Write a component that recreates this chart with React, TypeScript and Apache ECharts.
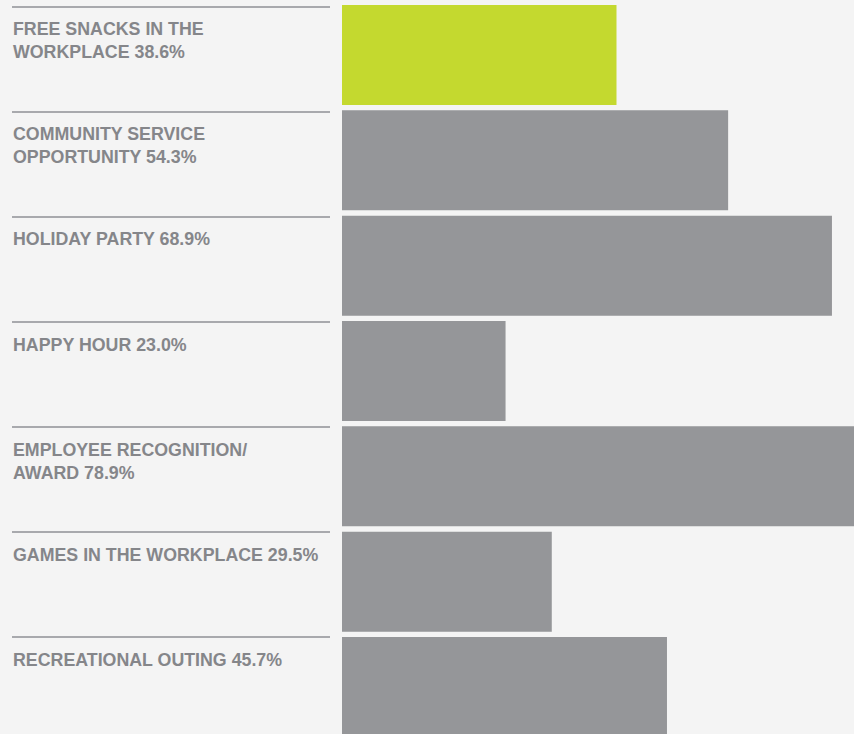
import React, { useEffect, useRef } from 'react';
import * as echarts from 'echarts';

const categories = [
  'FREE SNACKS IN THE\nWORKPLACE',
  'COMMUNITY SERVICE\nOPPORTUNITY',
  'HOLIDAY PARTY',
  'HAPPY HOUR',
  'EMPLOYEE RECOGNITION/\nAWARD',
  'GAMES IN THE WORKPLACE',
  'RECREATIONAL OUTING',
];
const values = [38.6, 54.3, 68.9, 23.0, 78.9, 29.5, 45.7];
const highlightIndex = 0;

const BG = '#f4f4f4';
const GREY = '#959699';
const GREEN = '#c4d92f';
const LINE = '#a8a9ad';
const TEXT = '#85868a';

export default function App() {
  const ref = useRef<HTMLDivElement>(null);
  useEffect(() => {
    const chart = echarts.init(ref.current!, null, { renderer: 'svg' });
    chart.setOption({
      animation: false,
      backgroundColor: BG,
      grid: [
        { left: 342, right: 0, top: 2.35, height: 737.3 },
        { left: 12, width: 318, top: 7, height: 737.3 },
      ],
      xAxis: [
        { type: 'value', gridIndex: 0, min: 0, max: 72, show: false },
        { type: 'value', gridIndex: 1, min: 0, max: 1, show: false },
      ],
      yAxis: [
        {
          type: 'category',
          gridIndex: 0,
          data: categories,
          inverse: true,
          axisLine: { show: false },
          axisTick: { show: false },
          axisLabel: { show: false },
          splitLine: { show: false },
        },
        {
          type: 'category',
          gridIndex: 1,
          data: categories,
          inverse: true,
          axisLine: { show: false },
          axisTick: { show: false },
          axisLabel: { show: false },
          splitLine: { show: true, interval: 0, lineStyle: { color: LINE, width: 2 } },
        },
      ],
      series: [
        {
          type: 'bar',
          xAxisIndex: 0,
          yAxisIndex: 0,
          barWidth: 100,
          clip: true,
          data: values.map((v, i) => ({
            value: v,
            itemStyle: { color: i === highlightIndex ? GREEN : GREY },
          })),
          label: {
            show: true,
            position: [-329, 12],
            align: 'left',
            verticalAlign: 'top',
            color: TEXT,
            fontSize: 17.8,
            fontWeight: 'bold',
            lineHeight: 23,
            fontFamily: 'Liberation Sans, Arial, sans-serif',
            formatter: (p: any) => `${p.name} ${Number(p.value).toFixed(1)}%`,
          },
        },
      ],
    });
    return () => chart.dispose();
  }, []);
  return (
    <div
      ref={ref}
      style={{ position: 'fixed', left: 0, top: 0, width: 854, height: 742 }}
    />
  );
}
